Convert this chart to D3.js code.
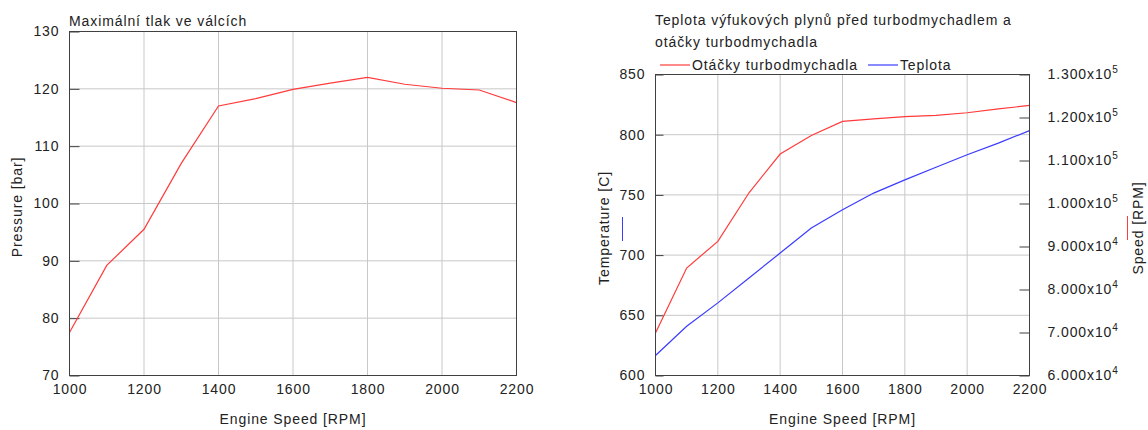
<!DOCTYPE html>
<html>
<head>
<meta charset="utf-8">
<script src="https://cdn.jsdelivr.net/npm/d3@7"></script>
<style>
  html, body { margin: 0; padding: 0; background: #fff; }
  svg text { font-family: "Liberation Sans", Arial, sans-serif; fill: #222; letter-spacing: 0.9px; }
</style>
</head>
<body>
<svg id="chart" width="1148" height="430"></svg>
<script>
// Engine speed grid shared by both charts [RPM]
const engineSpeed = [1000, 1100, 1200, 1300, 1400, 1500, 1600, 1700, 1800, 1900, 2000, 2100, 2200];

// Maximum cylinder pressure [bar]
const maxPressure = [77.5, 89.2, 95.5, 107.0, 117.0, 118.3, 119.9, 121.0, 122.0, 120.8, 120.1, 119.8, 117.6];

// Turbocharger speed [RPM]
const turboSpeed = [69900, 85000, 91200, 102500, 111500, 115800, 119100, 119700, 120200, 120500, 121100, 122000, 122800];

// Exhaust gas temperature before turbocharger [C]
const exhaustTemp = [616.6, 640.9, 660.3, 681.0, 701.7, 722.5, 737.6, 751.5, 762.5, 773.0, 783.3, 793.0, 803.4];

// Axis ticks
const rpmTicks = [1000, 1200, 1400, 1600, 1800, 2000, 2200];
const pressureTicks = [70, 80, 90, 100, 110, 120, 130];
const tempTicks = [600, 650, 700, 750, 800, 850];
const turboTicks = [60000, 70000, 80000, 90000, 100000, 110000, 120000, 130000];

const RED = "#ff3b3b";
const BLUE = "#3b3bff";
const GRID = "#c8c8c8";
const FRAME = "#404040";
const FS = 14;

const svg = d3.select("#chart");

function drawGrid(g, x, y, yTicks) {
  const [xa, xb] = x.range();
  const [yb, ya] = y.range();
  g.append("g").selectAll("line").data(rpmTicks).join("line")
    .attr("x1", d => x(d)).attr("x2", d => x(d))
    .attr("y1", ya).attr("y2", yb)
    .attr("stroke", GRID).attr("stroke-width", 1);
  g.append("g").selectAll("line").data(yTicks).join("line")
    .attr("x1", xa).attr("x2", xb)
    .attr("y1", d => y(d)).attr("y2", d => y(d))
    .attr("stroke", GRID).attr("stroke-width", 1);
}

function styleAxis(sel) {
  sel.select(".domain").remove();
  sel.selectAll(".tick line").attr("stroke", FRAME);
  sel.selectAll(".tick text").attr("font-size", FS).attr("fill", "#222")
    .attr("font-family", '"Liberation Sans", Arial, sans-serif');
}

function drawBox(g, x, y) {
  const [xa, xb] = x.range();
  const [yb, ya] = y.range();
  g.append("rect")
    .attr("x", xa).attr("y", ya)
    .attr("width", xb - xa).attr("height", yb - ya)
    .attr("fill", "none").attr("stroke", FRAME).attr("stroke-width", 1);
}

// ---------- Left chart: maximum cylinder pressure ----------
{
  const x = d3.scaleLinear().domain([1000, 2200]).range([69.5, 516.5]);
  const y = d3.scaleLinear().domain([70, 130]).range([375.5, 31.5]);
  const g = svg.append("g");

  drawGrid(g, x, y, pressureTicks);

  g.append("g").attr("transform", `translate(0,${y.range()[0]})`)
    .call(d3.axisBottom(x).tickValues(rpmTicks).tickSize(0).tickPadding(9).tickFormat(d3.format("d")))
    .call(styleAxis);

  g.append("g").attr("transform", `translate(${x.range()[0]},0)`)
    .call(d3.axisLeft(y).tickValues(pressureTicks).tickSizeInner(-10).tickSizeOuter(0).tickPadding(10))
    .call(styleAxis);

  g.append("path")
    .datum(engineSpeed.map((s, i) => [s, maxPressure[i]]))
    .attr("fill", "none").attr("stroke", RED).attr("stroke-width", 1.2)
    .attr("d", d3.line().x(d => x(d[0])).y(d => y(d[1])));

  drawBox(g, x, y);

  g.append("text").attr("x", 69).attr("y", 26).attr("font-size", FS)
    .text("Maximální tlak ve válcích");
  g.append("text").attr("x", (x.range()[0] + x.range()[1]) / 2).attr("y", 424)
    .attr("text-anchor", "middle").attr("font-size", FS).text("Engine Speed [RPM]");
  g.append("text").attr("transform", "translate(22,207) rotate(-90)")
    .attr("text-anchor", "middle").attr("font-size", FS).text("Pressure [bar]");
}

// ---------- Right chart: exhaust temperature and turbo speed ----------
{
  const x = d3.scaleLinear().domain([1000, 2200]).range([655.5, 1029.5]);
  const yT = d3.scaleLinear().domain([600, 850]).range([375.5, 74.5]);
  const yS = d3.scaleLinear().domain([60000, 130000]).range([375.5, 74.5]);
  const g = svg.append("g");

  drawGrid(g, x, yT, tempTicks);

  g.append("g").attr("transform", `translate(0,${yT.range()[0]})`)
    .call(d3.axisBottom(x).tickValues(rpmTicks).tickSize(0).tickPadding(9).tickFormat(d3.format("d")))
    .call(styleAxis);

  g.append("g").attr("transform", `translate(${x.range()[0]},0)`)
    .call(d3.axisLeft(yT).tickValues(tempTicks).tickSizeInner(-8).tickSizeOuter(0).tickPadding(10))
    .call(styleAxis);

  // right axis with scientific labels a.bcd x 10^n
  const rAxis = g.append("g").attr("transform", `translate(${x.range()[1]},0)`)
    .call(d3.axisRight(yS).tickValues(turboTicks).tickSizeInner(-10).tickSizeOuter(0).tickPadding(18).tickFormat(""))
    .call(styleAxis);
  rAxis.selectAll(".tick text").each(function(d) {
    const e = Math.floor(Math.log10(d));
    const m = d / Math.pow(10, e);
    const t = d3.select(this);
    t.append("tspan").text(m.toFixed(3) + "x10");
    t.append("tspan").attr("dy", -6).attr("font-size", 10).text(e);
  });

  g.append("path")
    .datum(engineSpeed.map((s, i) => [s, turboSpeed[i]]))
    .attr("fill", "none").attr("stroke", RED).attr("stroke-width", 1.2)
    .attr("d", d3.line().x(d => x(d[0])).y(d => yS(d[1])));

  g.append("path")
    .datum(engineSpeed.map((s, i) => [s, exhaustTemp[i]]))
    .attr("fill", "none").attr("stroke", BLUE).attr("stroke-width", 1.2)
    .attr("d", d3.line().x(d => x(d[0])).y(d => yT(d[1])));

  drawBox(g, x, yT);

  g.append("text").attr("x", 655).attr("y", 25).attr("font-size", FS)
    .text("Teplota výfukových plynů před turbodmychadlem a");
  g.append("text").attr("x", 655).attr("y", 47).attr("font-size", FS)
    .text("otáčky turbodmychadla");

  // legend: swatch line followed by label, entries laid out left to right
  const legend = [
    { label: "Otáčky turbodmychadla", color: RED },
    { label: "Teplota", color: BLUE }
  ];
  let lx = 660;
  legend.forEach(d => {
    const item = g.append("g").attr("transform", `translate(${lx},65)`);
    item.append("line").attr("x1", 0).attr("x2", 30).attr("y1", 0).attr("y2", 0)
      .attr("stroke", d.color).attr("stroke-width", 1.2);
    const t = item.append("text").attr("x", 32).attr("y", 5).attr("font-size", FS).text(d.label);
    lx += 32 + t.node().getComputedTextLength() + 10;
  });

  g.append("text").attr("x", (x.range()[0] + x.range()[1]) / 2).attr("y", 424)
    .attr("text-anchor", "middle").attr("font-size", FS).text("Engine Speed [RPM]");

  g.append("text").attr("transform", "translate(609,228) rotate(-90)")
    .attr("text-anchor", "middle").attr("font-size", FS).text("Temperature [C]");
  g.append("line").attr("x1", 622.5).attr("x2", 622.5).attr("y1", 217).attr("y2", 241)
    .attr("stroke", BLUE).attr("stroke-width", 1);

  g.append("text").attr("transform", "translate(1143,228) rotate(-90)")
    .attr("text-anchor", "middle").attr("font-size", FS).text("Speed [RPM]");
  g.append("line").attr("x1", 1127.5).attr("x2", 1127.5).attr("y1", 216).attr("y2", 240)
    .attr("stroke", RED).attr("stroke-width", 1);
}
</script>
</body>
</html>
